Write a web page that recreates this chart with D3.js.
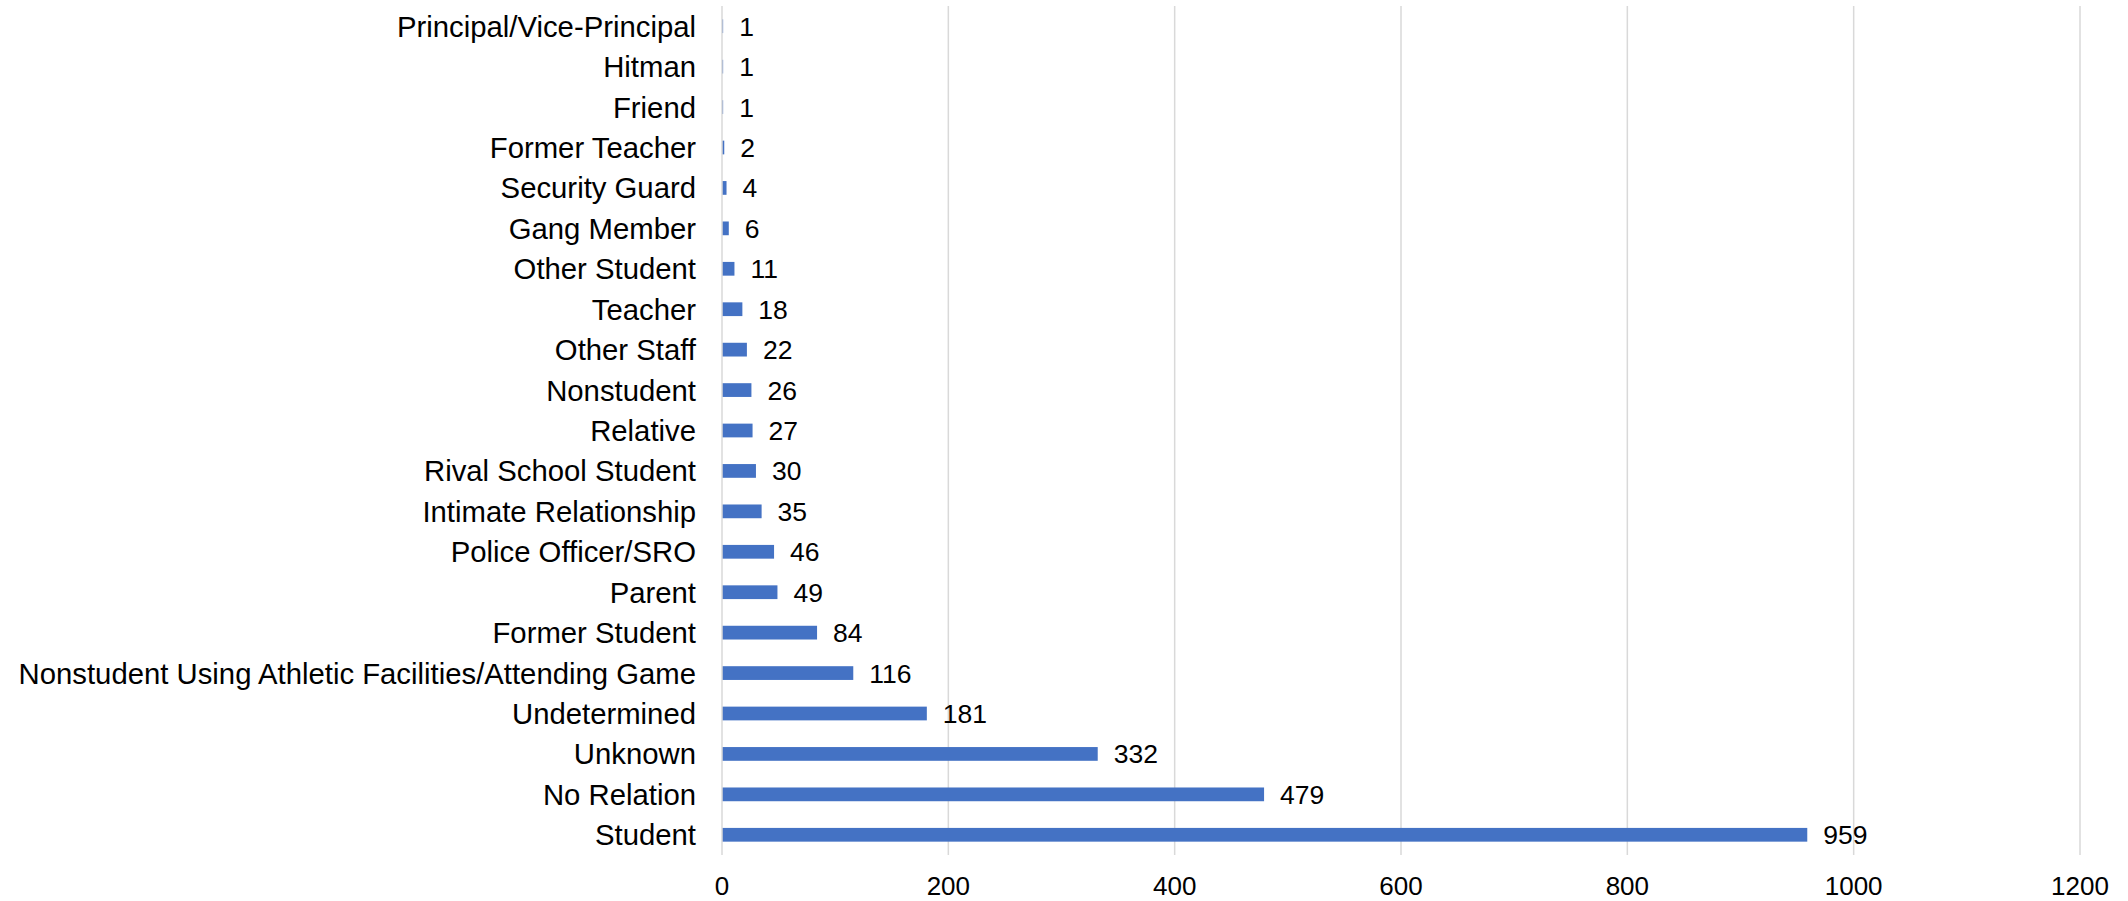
<!DOCTYPE html>
<html>
<head>
<meta charset="utf-8">
<script src="https://cdn.jsdelivr.net/npm/d3@7"></script>
<style>
  body { margin: 0; background: #fff; }
  text { font-family: "Liberation Sans", Arial, sans-serif; fill: #000; }
</style>
</head>
<body>
<script>
// categories top to bottom
const categories = [
  'Principal/Vice-Principal', 'Hitman', 'Friend', 'Former Teacher', 'Security Guard',
  'Gang Member', 'Other Student', 'Teacher', 'Other Staff', 'Nonstudent', 'Relative',
  'Rival School Student', 'Intimate Relationship', 'Police Officer/SRO', 'Parent',
  'Former Student', 'Nonstudent Using Athletic Facilities/Attending Game',
  'Undetermined', 'Unknown', 'No Relation', 'Student'
]
const counts = [1, 1, 1, 2, 4, 6, 11, 18, 22, 26, 27, 30, 35, 46, 49, 84, 116, 181, 332, 479, 959]
const xTicks = [0, 200, 400, 600, 800, 1000, 1200]

const width = 2128, height = 901
const margin = {top: 6, right: 48, bottom: 46, left: 722}

const svg = d3.select('body').append('svg')
    .attr('width', width)
    .attr('height', height)

const x = d3.scaleLinear()
    .domain([0, 1200])
    .range([margin.left, width - margin.right])

const y = d3.scaleBand()
    .domain(categories)
    .range([margin.top, height - margin.bottom])
    .paddingInner(0.66)
    .paddingOuter(0.33)

const data = categories.map((c, i) => ({cat: c, val: counts[i]}))

// gridlines
svg.append('g')
    .selectAll('line')
    .data(xTicks.slice(1))
    .enter().append('line')
    .attr('x1', d => x(d)).attr('x2', d => x(d))
    .attr('y1', margin.top).attr('y2', height - margin.bottom)
    .attr('stroke', '#d9d9d9')
    .attr('stroke-width', 1.5)

// bars
svg.append('g')
    .selectAll('rect')
    .data(data)
    .enter().append('rect')
    .attr('x', x(0))
    .attr('y', d => y(d.cat))
    .attr('width', d => x(d.val) - x(0))
    .attr('height', y.bandwidth())
    .attr('fill', '#4472c4')

// axis line
svg.append('line')
    .attr('x1', x(0)).attr('x2', x(0))
    .attr('y1', margin.top).attr('y2', height - margin.bottom)
    .attr('stroke', '#d9d9d9')
    .attr('stroke-width', 1.5)

// value labels
svg.append('g')
    .selectAll('text')
    .data(data)
    .enter().append('text')
    .attr('x', d => x(d.val) + 16)
    .attr('y', d => y(d.cat) + y.bandwidth() / 2)
    .attr('dy', '0.36em')
    .style('font-size', '26.5px')
    .text(d => d.val)

// category labels
svg.append('g')
    .selectAll('text')
    .data(categories)
    .enter().append('text')
    .attr('x', margin.left - 26)
    .attr('y', d => y(d) + y.bandwidth() / 2)
    .attr('dy', '0.36em')
    .attr('text-anchor', 'end')
    .style('font-size', '29.3px')
    .text(d => d)

// x tick labels
svg.append('g')
    .selectAll('text')
    .data(xTicks)
    .enter().append('text')
    .attr('x', d => x(d))
    .attr('y', 886)
    .attr('dy', '0.36em')
    .attr('text-anchor', 'middle')
    .style('font-size', '26px')
    .text(String)
</script>
</body>
</html>
